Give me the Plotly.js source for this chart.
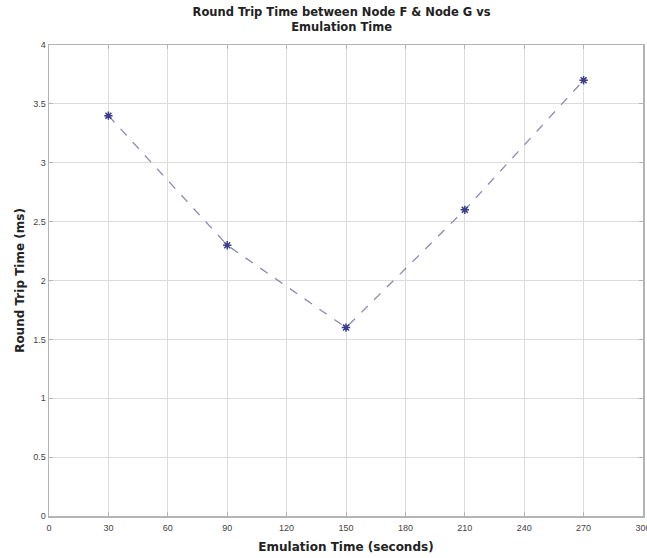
<!DOCTYPE html>
<html>
<head>
<meta charset="utf-8">
<script src="https://cdn.plot.ly/plotly-3.0.1.min.js"></script>
<style>html,body{margin:0;padding:0;background:#fff;}#chart{width:647px;height:558px;}</style>
</head>
<body>
<div id="chart"></div>
<script>
const emulationTime = [30, 90, 150, 210, 270];
const roundTripTime = [3.4, 2.3, 1.6, 2.6, 3.7];
const xTicks = [0, 30, 60, 90, 120, 150, 180, 210, 240, 270, 300];
const yTicks = [0, 0.5, 1, 1.5, 2, 2.5, 3, 3.5, 4];

const trace = {
  x: emulationTime,
  y: roundTripTime,
  type: 'scatter',
  mode: 'lines+markers',
  line: {color: '#8a8ab8', width: 1.3, dash: 'dash'},
  marker: {symbol: 'asterisk-open', size: 7, color: '#3c3c8c', line: {color: '#3c3c8c', width: 1.5}},
  showlegend: false,
  hoverinfo: 'x+y'
};

const axisCommon = {
  showgrid: true,
  gridcolor: '#dcdcdc',
  gridwidth: 1,
  zeroline: false,
  showline: true,
  linecolor: '#b4b4b4',
  linewidth: 1.5,
  mirror: 'ticks',
  ticks: 'inside',
  ticklen: 4,
  tickcolor: '#b4b4b4',
  ticklabeloverflow: 'allow',
  tickfont: {family: 'Liberation Sans, Arial, sans-serif', size: 9, color: '#444'}
};

const titleFont = {family: 'DejaVu Sans, sans-serif', size: 12, color: '#222'};

const layout = {
  width: 647,
  height: 558,
  margin: {l: 49, r: 4, t: 45, b: 42},
  paper_bgcolor: '#ffffff',
  plot_bgcolor: '#ffffff',
  title: {
    text: '<b>Round Trip Time between Node F & Node G vs<br>Emulation Time</b>',
    font: {family: 'DejaVu Sans, sans-serif', size: 11.5, color: '#222'},
    x: 0.528, xanchor: 'center', yref: 'container', y: 0.972, yanchor: 'middle'
  },
  xaxis: Object.assign({}, axisCommon, {
    range: [0, 300],
    tickvals: xTicks,
    ticktext: xTicks.map(String),
    ticklabelstandoff: 3,
    title: {text: '<b>Emulation Time (seconds)</b>', font: titleFont, standoff: 10}
  }),
  yaxis: Object.assign({}, axisCommon, {
    range: [0, 4],
    tickvals: yTicks,
    ticktext: yTicks.map(String),
    title: {text: '<b>Round Trip Time (ms)</b>', font: titleFont, standoff: 6}
  })
};

Plotly.newPlot('chart', [trace], layout, {displayModeBar: false, staticPlot: true});
</script>
</body>
</html>
